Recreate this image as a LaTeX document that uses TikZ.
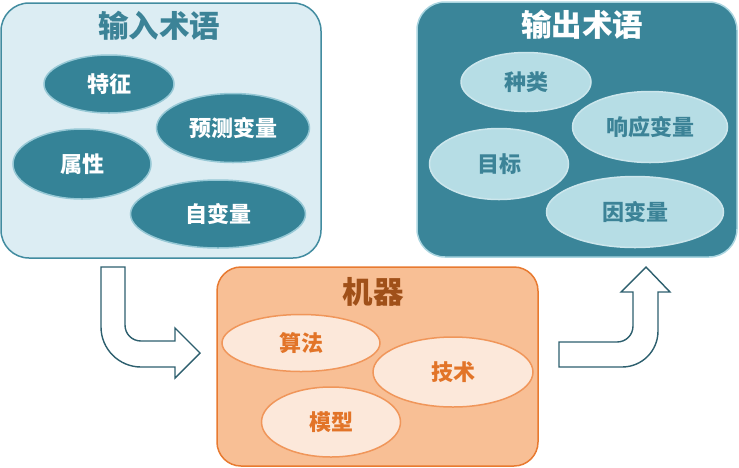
\documentclass[tikz,border=0pt]{standalone}
\usepackage{fontspec}
\newfontfamily\cjk{Noto Sans CJK SC}
\usepackage{tikz}
\usetikzlibrary{shapes.geometric,positioning}
\definecolor{inback}   {RGB}{220,237,243}
\definecolor{inedge}   {RGB}{66,140,160}
\definecolor{tealfill} {RGB}{53,131,151}
\definecolor{tealglow} {RGB}{150,200,213}
\definecolor{outback}  {RGB}{58,133,153}
\definecolor{outedge}  {RGB}{170,213,224}
\definecolor{paleblue} {RGB}{182,221,229}
\definecolor{outtext}  {RGB}{60,131,151}
\definecolor{machback} {RGB}{248,191,149}
\definecolor{machedge} {RGB}{232,122,48}
\definecolor{peach}    {RGB}{252,232,218}
\definecolor{peachedge}{RGB}{240,150,90}
\definecolor{machtitle}{RGB}{160,80,25}
\definecolor{machtext} {RGB}{226,116,40}
\definecolor{arrowline}{RGB}{45,95,110}
\tikzset{
  termbox/.style={draw, rounded corners=28pt, line width=1.5pt,
                  minimum width=#1, inner sep=0pt},
  termbox/.default=320pt,
  inbox/.style  ={termbox, fill=inback, draw=inedge, minimum height=255pt},
  outbox/.style ={termbox, fill=outback, draw=outedge, minimum height=255pt},
  machbox/.style={termbox=321pt, fill=machback, draw=machedge,
                  minimum height=199pt, rounded corners=24pt},
  title/.style  ={font=\cjk\bfseries\fontsize{30.5pt}{31pt}\selectfont, inner sep=0pt},
  %% term ellipses
  term/.style   ={ellipse, inner sep=0pt, line width=1.5pt,
                  font=\cjk\bfseries\fontsize{22pt}{23pt}\selectfont},
  interm/.style ={term, fill=tealfill, draw=tealglow, text=white},
  outterm/.style={term, fill=paleblue, draw=outedge!60!white, text=outtext},
  machterm/.style={term, fill=peach, draw=peachedge, text=machtext},
  blockarr/.style={draw=arrowline, fill=white, line width=1.4pt, line join=miter},
}
\begin{document}
\begin{tikzpicture}[x=1pt,y=-1pt]
  \useasboundingbox (0,0) rectangle (739,467);
  % input terms
  \node[inbox] (input) at (161,130.5) {};
  \node[title, text=outtext] (intitle) at (159,26) {输入术语};
  \node[interm, minimum width=130pt, minimum height=58pt] (feat) at (109,84) {特征};
  \node[interm, minimum width=153pt, minimum height=69pt] (pred) at (233,128) {预测变量};
  \node[interm, minimum width=138pt, minimum height=70pt] (attr) at (82,164) {属性};
  \node[interm, minimum width=175pt, minimum height=68pt] (indep) at (218,214) {自变量};
  % output terms
  \node[outbox] (output) at (577,129.5) {};
  \node[title, text=white] (outtitle) at (582,25) {输出术语};
  \node[outterm, minimum width=130pt, minimum height=59pt] (kind) at (526,82) {种类};
  \node[outterm, minimum width=155pt, minimum height=71pt] (resp) at (650,127) {响应变量};
  \node[outterm, minimum width=139pt, minimum height=71pt] (target) at (499,164) {目标};
  \node[outterm, minimum width=177pt, minimum height=71pt] (dep) at (635,212) {因变量};
  % machine
  \node[machbox] (machine) at (377.5,366.5) {};
  \node[title, text=machtitle] (machtitle) at (373,292) {机器};
  \node[machterm, minimum width=158pt, minimum height=57pt] (algo) at (301,343) {算法};
  \node[machterm, minimum width=160pt, minimum height=70pt] (tech) at (453,372) {技术};
  \node[machterm, minimum width=139pt, minimum height=70pt] (model) at (331,422) {模型};
  % block arrows
  \draw[blockarr] (101,267) -- (125,267) -- (125,325)
    .. controls (125,334) and (132,341) .. (141,341) -- (175,341) -- (175,328)
    -- (200,353) -- (175,378) -- (175,367) -- (141,367)
    .. controls (119,367) and (101,349) .. (101,327) -- cycle;
  \draw[blockarr] (559,342) -- (617,342)
    .. controls (626,342) and (633,335) .. (633,326) -- (633,292) -- (621,292)
    -- (646,267) -- (670,292) -- (658,292) -- (658,331)
    .. controls (658,351) and (642,367) .. (622,367) -- (559,367) -- cycle;
\end{tikzpicture}
\end{document}
